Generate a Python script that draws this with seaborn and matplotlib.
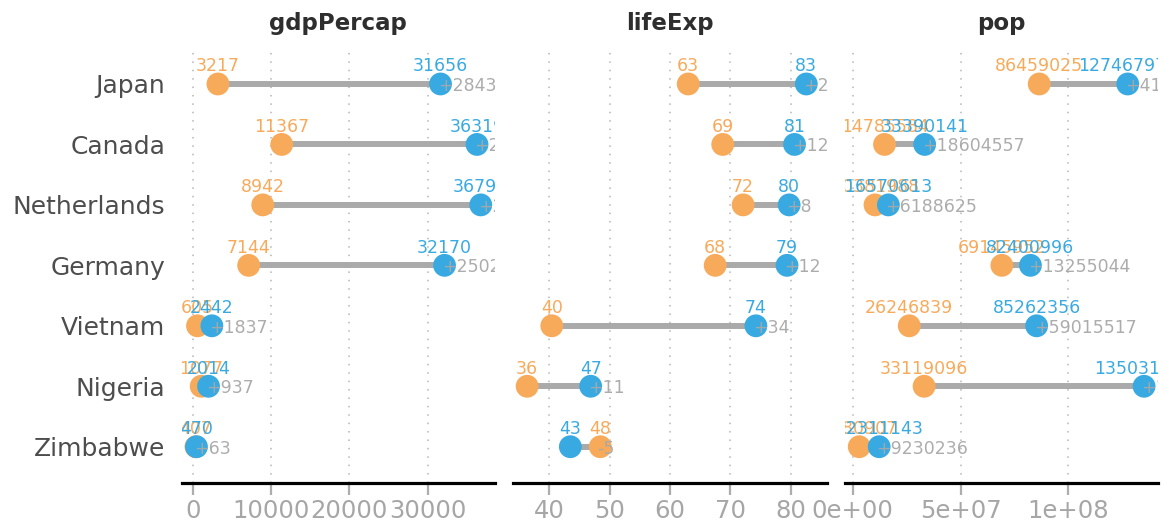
import pandas as pd
import matplotlib.pyplot as plt
import seaborn as sns
import numpy as np

# === Data (gapminder, 1952 vs 2007) ===
countries = ["Japan", "Canada", "Netherlands", "Germany", "Vietnam", "Nigeria", "Zimbabwe"]

gdp_1952 = [3216.956, 11367.161, 8941.572, 7144.114, 605.067, 1077.281, 406.884]
gdp_2007 = [31656.068, 36319.235, 36797.933, 32170.374, 2441.576, 2013.977, 469.709]

life_1952 = [63.03, 68.75, 72.13, 67.5, 40.412, 36.324, 48.451]
life_2007 = [82.603, 80.653, 79.762, 79.406, 74.249, 46.859, 43.487]

pop_1952 = [86459025, 14785584, 10381988, 69145952, 26246839, 33119096, 3080907]
pop_2007 = [127467972, 33390141, 16570613, 82400996, 85262356, 135031164, 12311143]

metrics = ["gdpPercap", "lifeExp", "pop"]
values_1952 = [gdp_1952, life_1952, pop_1952]
values_2007 = [gdp_2007, life_2007, pop_2007]

gdp_ticks = [0, 10000, 20000, 30000]
gdp_ticklabels = ["0", "10000", "20000", "30000"]
life_ticks = [40, 50, 60, 70, 80]
life_ticklabels = ["40", "50", "60", "70", "80"]
pop_ticks = [0, 5e7, 1e8]
pop_ticklabels = ["0e+00", "5e+07", "1e+08"]
ticks = [gdp_ticks, life_ticks, pop_ticks]
ticklabels = [gdp_ticklabels, life_ticklabels, pop_ticklabels]

# x limits per facet (free scales)
xlims = [(-1413, 38618), (34.03, 85.97), (-3516606, 141628677)]

# === Style ===
sns.set_style("white")
plt.rcParams["font.family"] = ["DejaVu Sans"]

orange = "#F8AA5B"
blue = "#39AAE1"
line_gray = "#AAAAAA"
text_gray = "#A8A8A8"
palette = {"1952": orange, "2007": blue}

W, H = 1164, 527
fig = plt.figure(figsize=(W / 100, H / 100), dpi=100)

panel_left = [181.7, 513.3, 845.0]
panel_w = 313.3
panel_top, panel_bottom = 47.7, 483.0

ypos = np.arange(len(countries))

for i, metric in enumerate(metrics):
    ax = fig.add_axes([panel_left[i] / W, 1 - panel_bottom / H, panel_w / W, (panel_bottom - panel_top) / H])

    v52 = np.array(values_1952[i], dtype=float)
    v07 = np.array(values_2007[i], dtype=float)

    long_df = pd.DataFrame({
        "country": countries * 2,
        "pos": np.concatenate([ypos, ypos]),
        "value": np.concatenate([v52, v07]),
        "year": ["1952"] * len(countries) + ["2007"] * len(countries),
    })

    # connecting segments
    ax.hlines(ypos, np.minimum(v52, v07), np.maximum(v52, v07), color=line_gray, lw=4.3, zorder=2)

    # points (2007 drawn after 1952)
    sns.scatterplot(data=long_df, x="value", y="pos", hue="year", palette=palette,
                    s=270, linewidth=0, legend=False, ax=ax, zorder=3)

    # value labels
    for yr, vals, col in [("1952", v52, orange), ("2007", v07, blue)]:
        for y, v in zip(ypos, vals):
            ax.annotate(f"{int(np.round(v))}", (v, y), xytext=(0, 9), textcoords="offset points",
                        ha="center", va="baseline", fontsize=12.5, color=col,
                        annotation_clip=False, clip_on=True, zorder=4)

    # difference labels
    for y, a, b in zip(ypos, v52, v07):
        d = int(np.round(b - a))
        lab = f"+{d}" if d >= 0 else f"-{abs(d)}"
        ax.annotate(lab, (max(a, b), y), xytext=(-2, 0), textcoords="offset points",
                    ha="left", va="center_baseline", fontsize=12.5, color=text_gray, alpha=0.95,
                    annotation_clip=False, clip_on=True, zorder=5)

    ax.set_xlim(*xlims[i])
    ax.set_ylim(len(countries) - 0.4, -0.6)
    ax.set_xticks(ticks[i])
    ax.set_xticklabels(ticklabels[i])
    ax.set_xlabel("")
    ax.set_ylabel("")

    # vertical dotted grid
    for t in ticks[i]:
        ax.axvline(t, color="#B5B5B5", lw=1.1, ls=(0, (1, 4.5)), zorder=1)

    ax.tick_params(axis="x", length=8.5, width=1.6, color="#ADADAD", labelsize=17.5,
                   labelcolor="#A6A6A6", pad=3, direction="out", bottom=True)
    if i == 0:
        ax.set_yticks(ypos)
        ax.set_yticklabels(countries)
        ax.tick_params(axis="y", length=0, labelsize=18, labelcolor="#4D4D4D", pad=12)
    else:
        ax.set_yticks([])

    for s in ["top", "right", "left"]:
        ax.spines[s].set_visible(False)
    ax.spines["bottom"].set_color("black")
    ax.spines["bottom"].set_linewidth(2.3)

    ax.set_title(metric, fontsize=16.5, fontweight="bold", color="#2E2E2E", pad=12.5)

fig.savefig("out.png", dpi=100)
